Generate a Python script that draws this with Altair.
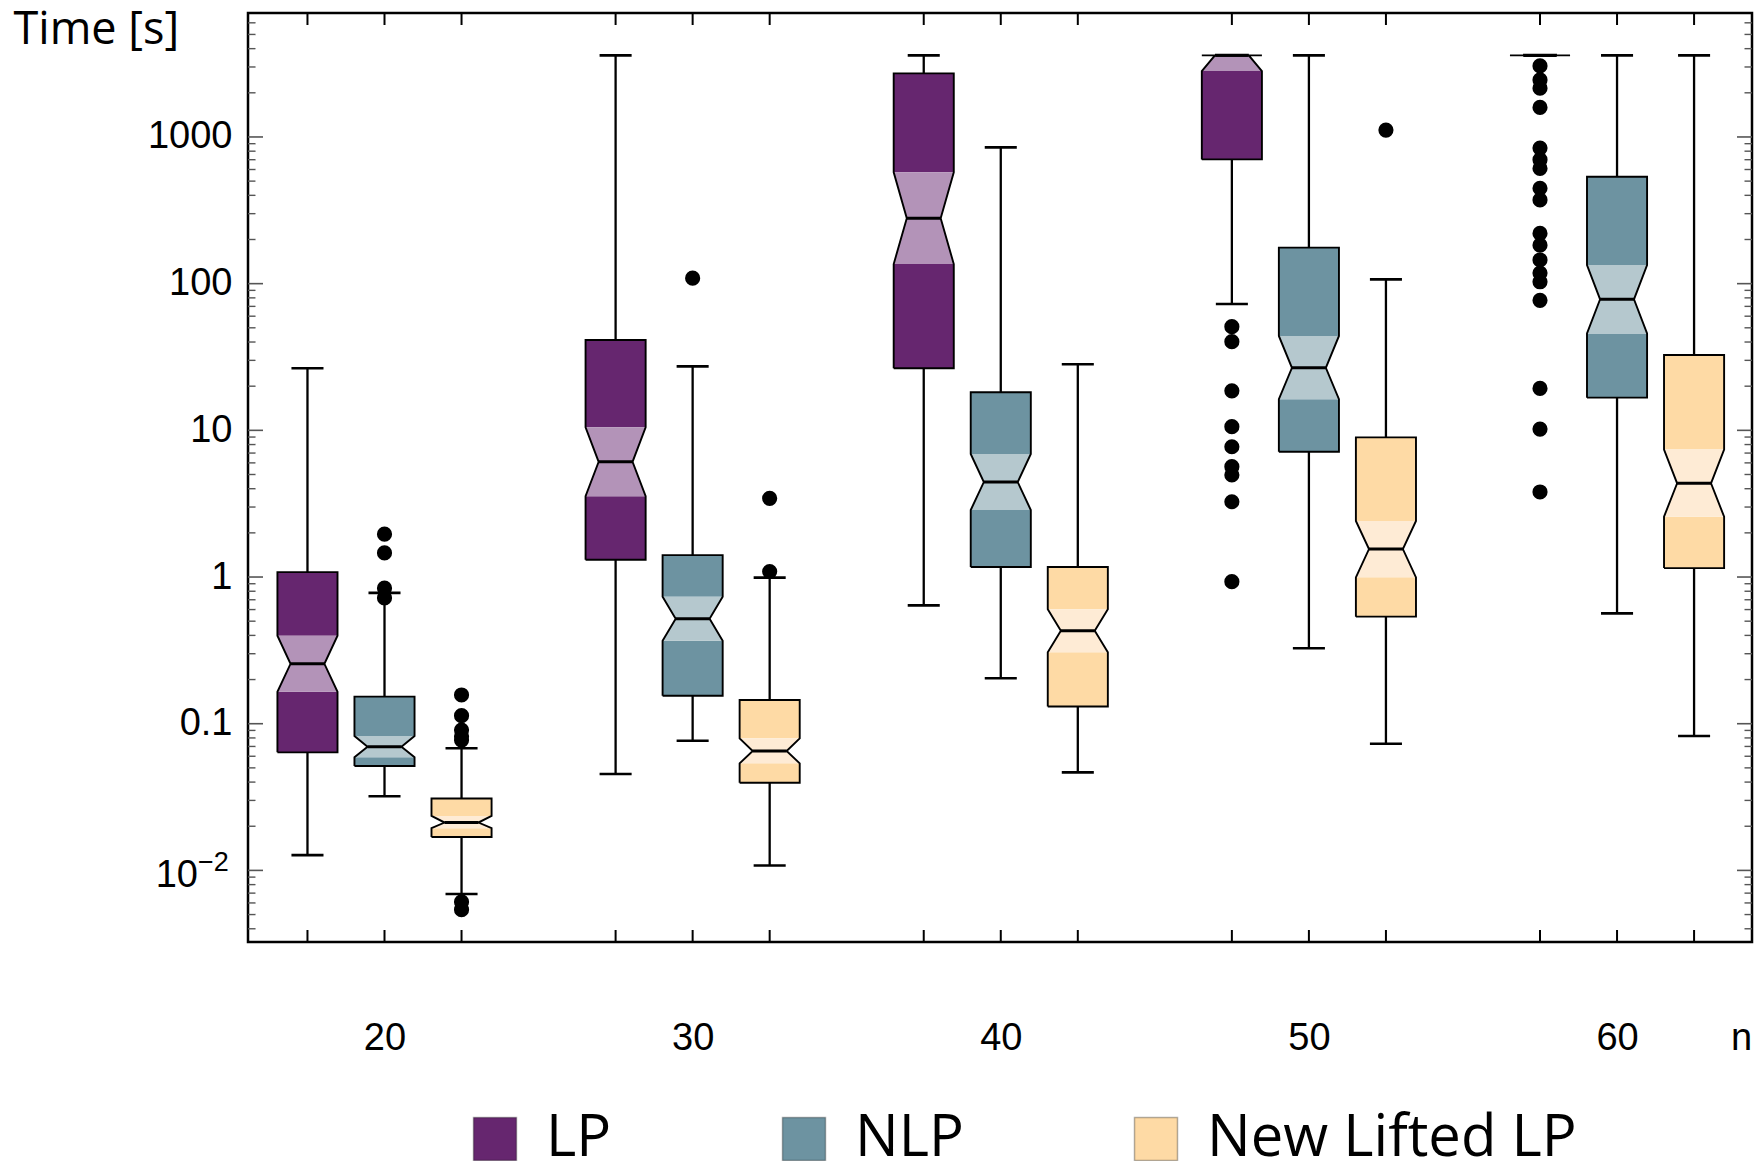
import json
import altair as alt
import pandas as pd

# ---------------- data ----------------
N_VALUES = [20, 30, 40, 50, 60]
METHODS = ["LP", "NLP", "New Lifted LP"]
OFFSETS = [-2.5, 0.0, 2.5]

DARK = ["#66266F", "#6D93A1", "#FEDAA5"]
LIGHT = ["#B393B8", "#B5C8CE", "#FEEBD5"]

# LP
LP_WLO = [0.0127, 0.0454, 0.641, 72.6, 3600]
LP_Q1 = [0.0638, 1.31, 26.5, 703, 3600]
LP_NLO = [0.165, 3.56, 136, 2815, 3600]
LP_MED = [0.256, 6.1, 279, 3600, 3600]
LP_NHI = [0.398, 10.5, 574, 3600, 3600]
LP_Q3 = [1.08, 41.3, 2715, 3600, 3600]
LP_WHI = [26.5, 3600, 3600, 3600, 3600]

# NLP
NLP_WLO = [0.032, 0.0766, 0.204, 0.327, 0.565]
NLP_Q1 = [0.0515, 0.155, 1.17, 7.15, 16.7]
NLP_NLO = [0.059, 0.368, 2.86, 16.3, 45.8]
NLP_MED = [0.0697, 0.52, 4.44, 26.7, 78.2]
NLP_NHI = [0.0824, 0.734, 6.9, 44, 134]
NLP_Q3 = [0.153, 1.41, 18.2, 176, 535]
NLP_WHI = [0.78, 27.3, 849, 3600, 3600]

# New Lifted LP
NEW_WLO = [0.0069, 0.0108, 0.0466, 0.073, 0.0824]
NEW_Q1 = [0.0169, 0.0396, 0.131, 0.537, 1.15]
NEW_NLO = [0.0194, 0.0537, 0.307, 0.995, 2.58]
NEW_MED = [0.0212, 0.0651, 0.431, 1.55, 4.35]
NEW_NHI = [0.0235, 0.0795, 0.602, 2.41, 7.4]
NEW_Q3 = [0.0309, 0.145, 1.17, 8.96, 32.6]
NEW_WHI = [0.068, 0.99, 28.2, 107, 3600]

# outliers
OUT_LP50 = [50.9, 40.2, 18.6, 10.6, 7.73, 5.65, 4.96, 3.26, 0.93]
OUT_LP60 = [3050, 2450, 2150, 1590, 840, 700, 610, 447, 372, 220, 183, 145,
            118, 103, 77, 19.3, 10.2, 3.8]
OUT_NLP20 = [1.96, 1.46, 0.84, 0.72]
OUT_NLP30 = [109]
OUT_NEW20 = [0.157, 0.1135, 0.0906, 0.082, 0.0774, 0.0061, 0.0054]
OUT_NEW30 = [3.44, 1.09]
OUT_NEW50 = [1114]

Y_TICKS = [0.01, 0.1, 1, 10, 100, 1000]
Y_TICK_LABELS = ["", "0.1", "1", "10", "100", "1000"]   # 0.01 is drawn as 10^-2 below
POW_VALUE = [0.01]
POW_BASE = ["10"]
POW_EXP = ["−2"]
Y_MINOR = [m * 10.0 ** k for k in range(-3, 4) for m in range(2, 10)]
Y_DOMAIN = [0.00325, 7000]
X_DOMAIN = [15.57, 64.38]

# ---------------- geometry / frames ----------------
W, H = 1504, 929
HALF = 0.975   # half box width in n units
WAIST = 0.55   # half width at median notch
CAP = 0.52     # half width of whisker caps

STATS = {
    "LP": (LP_WLO, LP_Q1, LP_NLO, LP_MED, LP_NHI, LP_Q3, LP_WHI),
    "NLP": (NLP_WLO, NLP_Q1, NLP_NLO, NLP_MED, NLP_NHI, NLP_Q3, NLP_WHI),
    "New Lifted LP": (NEW_WLO, NEW_Q1, NEW_NLO, NEW_MED, NEW_NHI, NEW_Q3, NEW_WHI),
}
OUTLIERS = {
    ("LP", 50): OUT_LP50, ("LP", 60): OUT_LP60,
    ("NLP", 20): OUT_NLP20, ("NLP", 30): OUT_NLP30,
    ("New Lifted LP", 20): OUT_NEW20, ("New Lifted LP", 30): OUT_NEW30,
    ("New Lifted LP", 50): OUT_NEW50,
}

boxes, notch, outline, outl = [], [], [], []
for mi, m in enumerate(METHODS):
    wlo, q1, nlo, med, nhi, q3, whi = STATS[m]
    for i, n in enumerate(N_VALUES):
        pos = n + OFFSETS[mi]
        box = f"{m}-{n}"
        L, R, Lw, Rw = pos - HALF, pos + HALF, pos - WAIST, pos + WAIST
        boxes.append(dict(box=box, method=m, pos=pos, wlo=wlo[i], q1=q1[i], nlo=nlo[i],
                          med=med[i], nhi=nhi[i], q3=q3[i], whi=whi[i], L=L, R=R,
                          lw=Lw, rw=Rw, cl=pos - CAP, cr=pos + CAP))
        # lower and upper halves of the notch as trapezoids (x -> [y, y2])
        for part, pts in (("lo", [(L, nlo[i], nlo[i]), (Lw, nlo[i], med[i]),
                                   (Rw, nlo[i], med[i]), (R, nlo[i], nlo[i])]),
                          ("hi", [(L, nhi[i], nhi[i]), (Lw, med[i], nhi[i]),
                                  (Rw, med[i], nhi[i]), (R, nhi[i], nhi[i])])):
            for k, (x, ya, yb) in enumerate(pts):
                notch.append(dict(series=f"{box}-{part}", light=LIGHT[mi], idx=k,
                                  x=x, y=ya, y2=yb))
        poly = [(L, q1[i]), (R, q1[i]), (R, nlo[i]), (Rw, med[i]), (R, nhi[i]), (R, q3[i]),
                (L, q3[i]), (L, nhi[i]), (Lw, med[i]), (L, nlo[i]), (L, q1[i])]
        for k, (x, y) in enumerate(poly):
            outline.append(dict(box=box, idx=k, x=x, y=y))
        for v in OUTLIERS.get((m, n), []):
            outl.append(dict(method=m, pos=pos, v=v))

boxes = pd.DataFrame(boxes)
notch = pd.DataFrame(notch)
outline = pd.DataFrame(outline)
outl = pd.DataFrame(outl)
tick_pos = pd.DataFrame({"pos": [n + o for n in N_VALUES for o in OFFSETS]})
major_df = pd.DataFrame({"v": Y_TICKS})
minor_df = pd.DataFrame({"v": [v for v in Y_MINOR if Y_DOMAIN[0] < v < Y_DOMAIN[1]]})
pow_df = pd.DataFrame({"v": POW_VALUE, "base": POW_BASE, "exp": POW_EXP})

# ---------------- scales / axes ----------------
xscale = alt.Scale(domain=X_DOMAIN, nice=False, zero=False)
yscale = alt.Scale(type="log", domain=Y_DOMAIN, nice=False)

xaxis = alt.Axis(values=N_VALUES, format="d", ticks=False, domain=False, grid=False,
                 labelFont="Liberation Sans", labelFontSize=38, labelColor="black",
                 labelPadding=107, labelBaseline="alphabetic", labelFlush=False,
                 title="n", titleX=1493, titleY=107, titleBaseline="alphabetic",
                 titleAlign="center", titleFont="Liberation Sans", titleFontSize=38,
                 titleFontWeight="normal", titleColor="black")
label_expr = (f"{json.dumps(Y_TICK_LABELS, ensure_ascii=False)}"
              f"[indexof({json.dumps(Y_TICKS)}, datum.value)]")
yaxis = alt.Axis(values=Y_TICKS, labelExpr=label_expr, ticks=False, domain=False,
                 grid=False, labelFont="Liberation Sans", labelFontSize=38,
                 labelColor="black", labelPadding=16, labelFlush=False,
                 title="Time [s]", titleAngle=0, titleX=-235, titleY=30,
                 titleAlign="left", titleBaseline="alphabetic", titleFont="Open Sans",
                 titleFontSize=45, titleFontWeight="normal", titleColor="black")


def X(f):
    return alt.X(f, scale=xscale, axis=xaxis)


def Y(f):
    return alt.Y(f, scale=yscale, axis=yaxis)


legend = alt.Legend(title=None, orient="none", legendX=218, legendY=1097,
                    direction="horizontal", symbolType="square", symbolSize=1849,
                    symbolStrokeWidth=1.5, symbolStrokeColor="rgba(0,0,0,0.3)",
                    symbolOpacity=1, labelFont="Open Sans", labelFontSize=58,
                    labelColor="black", labelOffset=22, columnPadding=163,
                    padding=0, labelLimit=600)

dark_lo = alt.Chart(boxes).mark_rect(opacity=1).encode(
    x=X("L:Q"), x2="R:Q", y=Y("q1:Q"), y2="nlo:Q",
    color=alt.Color("method:N", scale=alt.Scale(domain=METHODS, range=DARK), legend=legend),
)
dark_hi = alt.Chart(boxes).mark_rect(opacity=1).encode(
    x=X("L:Q"), x2="R:Q", y=Y("nhi:Q"), y2="q3:Q",
    color=alt.Color("method:N", scale=alt.Scale(domain=METHODS, range=DARK), legend=legend),
)
light = alt.Chart(notch).mark_area(opacity=1).encode(
    x=X("x:Q"), y=Y("y:Q"), y2="y2:Q", detail="series:N",
    fill=alt.Fill("light:N", scale=None),
)
edge = alt.Chart(outline).mark_line(color="black", strokeWidth=1.9).encode(
    x=X("x:Q"), y=Y("y:Q"), detail="box:N", order="idx:Q",
)
median = alt.Chart(boxes).mark_rule(color="black", strokeWidth=3).encode(
    x=X("lw:Q"), x2="rw:Q", y=Y("med:Q"),
)
wh_up = alt.Chart(boxes).mark_rule(color="black", strokeWidth=2.3).encode(
    x=X("pos:Q"), y=Y("q3:Q"), y2="whi:Q")
wh_lo = alt.Chart(boxes).mark_rule(color="black", strokeWidth=2.3).encode(
    x=X("pos:Q"), y=Y("wlo:Q"), y2="q1:Q")
cap_up = alt.Chart(boxes).mark_rule(color="black", strokeWidth=2.6).encode(
    x=X("cl:Q"), x2="cr:Q", y=Y("whi:Q"))
cap_lo = alt.Chart(boxes).mark_rule(color="black", strokeWidth=2.6).encode(
    x=X("cl:Q"), x2="cr:Q", y=Y("wlo:Q"))
points = alt.Chart(outl).mark_circle(color="black", size=230, opacity=1).encode(
    x=X("pos:Q"), y=Y("v:Q"))

tick_top = alt.Chart(tick_pos).mark_rule(color="black", strokeWidth=2).encode(
    x=X("pos:Q"), y=alt.value(0), y2=alt.value(12))
tick_bot = alt.Chart(tick_pos).mark_rule(color="black", strokeWidth=2).encode(
    x=X("pos:Q"), y=alt.value(H - 12), y2=alt.value(H))
maj_l = alt.Chart(major_df).mark_rule(color="#555555", strokeWidth=1.6).encode(
    y=Y("v:Q"), x=alt.value(0), x2=alt.value(15))
maj_r = alt.Chart(major_df).mark_rule(color="#555555", strokeWidth=1.6).encode(
    y=Y("v:Q"), x=alt.value(W - 15), x2=alt.value(W))
min_l = alt.Chart(minor_df).mark_rule(color="#555555", strokeWidth=1.4).encode(
    y=Y("v:Q"), x=alt.value(0), x2=alt.value(7.5))
min_r = alt.Chart(minor_df).mark_rule(color="#555555", strokeWidth=1.4).encode(
    y=Y("v:Q"), x=alt.value(W - 7.5), x2=alt.value(W))

# 10^-2 label as base + superscript
pow_base = alt.Chart(pow_df).mark_text(
    font="Liberation Sans", fontSize=38, align="right", baseline="middle", dy=6,
    color="black").encode(y=Y("v:Q"), x=alt.value(-50), text="base:N")
pow_exp = alt.Chart(pow_df).mark_text(
    font="Liberation Sans", fontSize=27, align="left", baseline="middle", dy=-7,
    color="black").encode(y=Y("v:Q"), x=alt.value(-50), text="exp:N")

chart = alt.layer(
    dark_lo, dark_hi, light, edge, wh_up, wh_lo, cap_up, cap_lo, median, points,
    tick_top, tick_bot, maj_l, maj_r, min_l, min_r, pow_base, pow_exp,
).properties(
    width=W, height=H,
    autosize=alt.AutoSizeParams(type="none"),
    padding={"left": 240, "top": 5, "right": 3, "bottom": 219},
    background="white",
).configure_view(stroke="black", strokeWidth=2.5)

chart.save("out.html", embed_options={"renderer": "svg", "actions": False})
